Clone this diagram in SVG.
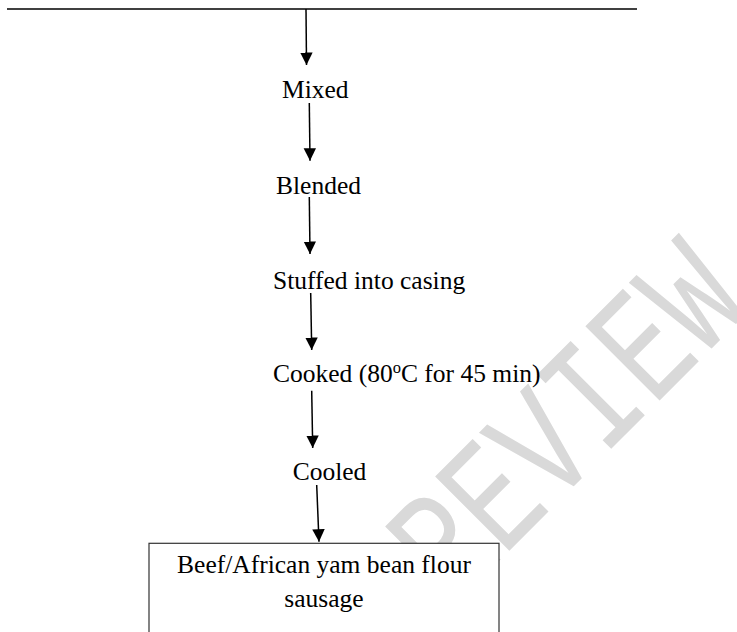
<svg xmlns="http://www.w3.org/2000/svg" width="737" height="632" viewBox="0 0 737 632">
  <style>
    .lbl { font-family: "Liberation Serif", "Times New Roman", serif; font-size: 25.5px; fill: #000; }
    .conn { stroke: #000; stroke-width: 1.5; fill: none; }
    .wm { font-family: "Liberation Mono", "Courier New", monospace; font-size: 118px; fill: #d9d9d9; }
  </style>
  <defs>
    <marker id="ah" markerUnits="userSpaceOnUse" markerWidth="13" markerHeight="13" viewBox="0 0 13 13" refX="12.5" refY="6.25" orient="auto">
      <path d="M0,0 L12.5,6.25 L0,12.5 Z" fill="#000"/>
    </marker>
    <mask id="wmMask" maskUnits="userSpaceOnUse" x="0" y="0" width="737" height="632">
      <rect x="0" y="0" width="737" height="632" fill="#fff"/>
      <rect x="265" y="326" width="295" height="26" fill="#000"/>
    </mask>
  </defs>
  <rect x="0" y="0" width="737" height="632" fill="#fff"/>

  <g id="watermark" mask="url(#wmMask)">
    <text class="wm" transform="translate(452.7,607.3) rotate(-45) scale(1,1.35)" x="0" y="0">REVIEW</text>
  </g>

  <g id="top-line">
    <line x1="7" y1="9" x2="637" y2="9" stroke="#000" stroke-width="1.5"/>
  </g>

  <g id="connectors">
    <line class="conn" x1="306" y1="9" x2="306.5" y2="65" marker-end="url(#ah)"/>
    <line class="conn" x1="309.3" y1="103" x2="310" y2="160.7" marker-end="url(#ah)"/>
    <line class="conn" x1="309.3" y1="197" x2="310" y2="254" marker-end="url(#ah)"/>
    <line class="conn" x1="310.7" y1="293" x2="311.7" y2="350" marker-end="url(#ah)"/>
    <line class="conn" x1="311.7" y1="390.7" x2="312.7" y2="448" marker-end="url(#ah)"/>
    <line class="conn" x1="316.7" y1="485" x2="319" y2="541.7" marker-end="url(#ah)"/>
  </g>

  <g id="mixed">
    <text class="lbl" x="282" y="97.7">Mixed</text>
  </g>
  <g id="blended">
    <text class="lbl" x="276" y="194">Blended</text>
  </g>
  <g id="stuffed">
    <text class="lbl" x="273" y="289">Stuffed into casing</text>
  </g>
  <g id="cooked">
    <text class="lbl" x="273" y="382">Cooked (80<tspan font-size="16.5" dy="-9">o</tspan><tspan dy="9">C for 45 min)</tspan></text>
  </g>
  <g id="cooled">
    <text class="lbl" x="292.7" y="480">Cooled</text>
  </g>
  <g id="product">
    <rect x="149" y="543.3" width="350" height="100" fill="#fff" stroke="#333" stroke-width="1.2"/>
    <text class="lbl" x="324" y="573.3" text-anchor="middle">Beef/African yam bean flour</text>
    <text class="lbl" x="324" y="606.7" text-anchor="middle">sausage</text>
  </g>
</svg>
